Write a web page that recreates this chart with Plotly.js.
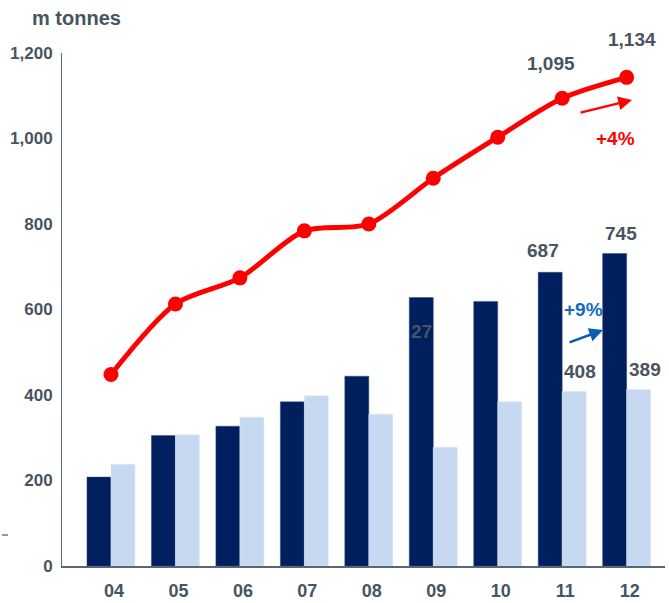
<!DOCTYPE html>
<html>
<head>
<meta charset="utf-8">
<script src="https://cdn.plot.ly/plotly-3.0.1.min.js"></script>
<style>html,body{margin:0;padding:0;background:#fff;}#chart{width:669px;height:603px;}</style>
</head>
<body>
<div id="chart"></div>
<script>
// Data
const years = ["04","05","06","07","08","09","10","11","12"];
const darkBars = [208, 305, 327, 384, 444, 628, 619, 687, 731];
const lightBars = [238, 307, 348, 398, 355, 278, 384, 408, 413];
const redLine = [448, 613, 674, 784, 800, 907, 1003, 1094, 1143];
const yTicks = [0, 200, 400, 600, 800, 1000, 1200];
const yTickText = ["0", "200", "400", "600", "800", "1,000", "1,200"];

const txtColor = "#48545f";
const font = "Liberation Sans, Arial, sans-serif";

const traces = [
  {type: "bar", x: years, y: darkBars, marker: {color: "#001f5f", line: {color: "#3a4f80", width: 0.5}}, hoverinfo: "skip"},
  {type: "bar", x: years, y: lightBars, marker: {color: "#c6d9f0", line: {color: "#dde8f6", width: 0.5}}, hoverinfo: "skip"},
  {type: "scatter", mode: "lines+markers", x: years, y: redLine,
   line: {color: "#ff0000", width: 5, shape: "spline", smoothing: 0.8},
   marker: {color: "#ff0000", size: 15}, hoverinfo: "skip"}
];

function lbl(text, xi, yv, xs, ys, color) {
  return {xref: "x", yref: "y", x: xi, y: yv, text: text, showarrow: false, xanchor: "center", yanchor: "middle",
    xshift: xs, yshift: ys, font: {family: font, size: 19, color: color || txtColor}};
}

const annotations = [
  {xref: "paper", yref: "paper", x: (30-62)/603, y: (566-18)/513, xanchor: "left", yanchor: "middle",
   text: "<b>m tonnes</b>", showarrow: false, font: {family: font, size: 20, color: txtColor}},
  lbl("<b>1,095</b>", 7, redLine[7], -11, 35),
  lbl("<b>1,134</b>", 8, redLine[8], 5, 38),
  lbl("<b>687</b>", 7, darkBars[7], -19, 22),
  lbl("<b>745</b>", 8, darkBars[8], -6, 20),
  lbl("<b>408</b>", 7, lightBars[7], 18, 20),
  lbl("<b>389</b>", 8, lightBars[8], 18, 20),
  lbl("<b>27</b>", 5, darkBars[5], -12, -34),
  {xref: "paper", yref: "paper", x: (615-62)/603, y: (566-138)/513, xanchor: "center", yanchor: "middle",
   text: "<b>+4%</b>", showarrow: false, font: {family: font, size: 19, color: "#ff0000"}},
  {xref: "paper", yref: "paper", x: (583-62)/603, y: (566-309)/513, xanchor: "center", yanchor: "middle",
   text: "<b>+9%</b>", showarrow: false, font: {family: font, size: 19, color: "#1569c2"}},
  {xref: "paper", yref: "paper", x: (632-62)/603, y: (566-100)/513, ax: -53, ay: 13, text: "",
   showarrow: true, arrowhead: 2, arrowsize: 1.1, arrowwidth: 2.5, arrowcolor: "#ff0000"},
  {xref: "paper", yref: "paper", x: (603-62)/603, y: (566-330)/513, ax: -35, ay: 13, text: "",
   showarrow: true, arrowhead: 2, arrowsize: 1.1, arrowwidth: 2.5, arrowcolor: "#0a5cb0"}
];

const layout = {
  width: 669, height: 603,
  margin: {l: 62, r: 4, t: 53, b: 37, pad: 0},
  paper_bgcolor: "#ffffff", plot_bgcolor: "#ffffff",
  showlegend: false,
  barmode: "group", bargap: 0.255, bargroupgap: 0,
  font: {family: font, color: txtColor},
  xaxis: {type: "category", range: [-0.76, 8.595], showgrid: false, zeroline: false,
    showline: true, linecolor: "#5a6670", linewidth: 2, ticks: "", ticklabelstandoff: 7, ticklabelshift: 3,
    tickvals: years, ticktext: years.map(y => "<b>" + y + "</b>"),
    tickfont: {family: font, size: 18, color: txtColor}, fixedrange: true},
  yaxis: {range: [0, 1200], tickvals: yTicks, ticktext: yTickText.map(t => "<b>" + t + "</b>"),
    showgrid: false, zeroline: false,
    showline: true, linecolor: "#5a6670", linewidth: 1, ticks: "", ticklabelstandoff: 5,
    tickfont: {family: font, size: 17, color: txtColor}, fixedrange: true},
  annotations: annotations,
  shapes: [
    {type: "line", xref: "paper", yref: "paper", x0: (2-62)/603, x1: (8-62)/603, y0: (566-535)/513, y1: (566-535)/513,
     line: {color: "#333333", width: 1}}
  ]
};

Plotly.newPlot("chart", traces, layout, {displayModeBar: false, staticPlot: true});
</script>
</body>
</html>
